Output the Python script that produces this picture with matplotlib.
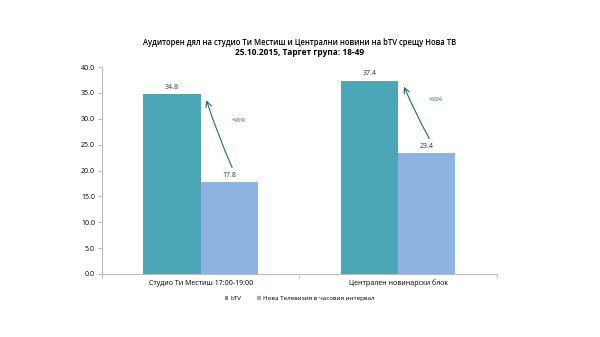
import matplotlib.pyplot as plt
import numpy as np

plt.rcParams['font.family'] = ['Open Sans', 'DejaVu Sans']

# data
categories = ['Студио Ти Местиш 17:00-19:00', 'Централен новинарски блок']
btv = [34.8, 37.4]
nova = [17.8, 23.4]
series_names = ['bTV', 'Нова Телевизия в часовия интервал']
growth = ['+96%', '+60%']

c_btv = '#4BA6B6'
c_nova = '#8DB3E2'
c_arrow = '#1F6B78'

fig = plt.figure(figsize=(6, 3.37), dpi=100)
ax = fig.add_axes([0.17, 0.187, 0.658, 0.614])

x = np.arange(len(categories))
w = 0.29
b1 = ax.bar(x - w / 2, btv, w, color=c_btv, label=series_names[0])
b2 = ax.bar(x + w / 2, nova, w, color=c_nova, label=series_names[1])

for bars, vals in ((b1, btv), (b2, nova)):
    for r, v in zip(bars, vals):
        ax.text(r.get_x() + r.get_width() / 2, v + 0.6, f'{v:.1f}',
                ha='center', va='bottom', fontsize=5, color='#333333')

# growth arrows from the Nova bar up to the bTV bar
for i in range(len(categories)):
    start = (x[i] + 0.165, nova[i] + 2.3)
    end = (x[i] + 0.025, btv[i] - 0.7)
    ax.annotate('', xy=end, xytext=start,
                arrowprops=dict(arrowstyle='->', color=c_arrow, lw=0.8,
                                connectionstyle='arc3,rad=-0.03'))
    ax.text(x[i] + 0.19, (btv[i] + nova[i]) / 2 + 3.3, growth[i],
            ha='center', va='center', fontsize=4, color=c_arrow)

ax.set_xlim(-0.5, 1.5)
ax.set_ylim(0, 40)
ax.set_yticks(np.arange(0, 40.1, 5))
ax.set_yticklabels([f'{t:.1f}' for t in np.arange(0, 40.1, 5)], fontsize=5)
ax.set_xticks(x)
ax.set_xticklabels(categories, fontsize=5)
ax.set_xticks([-0.5, 0.5, 1.5], minor=True)
ax.tick_params(axis='x', which='major', length=0, pad=4)
ax.tick_params(axis='x', which='minor', length=3, color='#bbbbbb')
ax.tick_params(axis='y', length=3, color='#bbbbbb', pad=2)

for s in ('top', 'right'):
    ax.spines[s].set_visible(False)
for s in ('left', 'bottom'):
    ax.spines[s].set_color('#bbbbbb')
    ax.spines[s].set_linewidth(0.8)

fig.text(0.5, 0.865, 'Аудиторен дял на студио Ти Местиш и Централни новини на bTV срещу Нова ТВ',
         ha='center', fontsize=5.5, weight='semibold')
fig.text(0.5, 0.838, '25.10.2015, Таргет група: 18-49',
         ha='center', fontsize=6, weight='bold')

ax.legend(loc='upper center', bbox_to_anchor=(0.5, -0.08), ncol=2, frameon=False,
          fontsize=4.5, handlelength=0.6, handleheight=0.6, handletextpad=0.3,
          columnspacing=2.5)

fig.savefig('out.png', dpi=100)
